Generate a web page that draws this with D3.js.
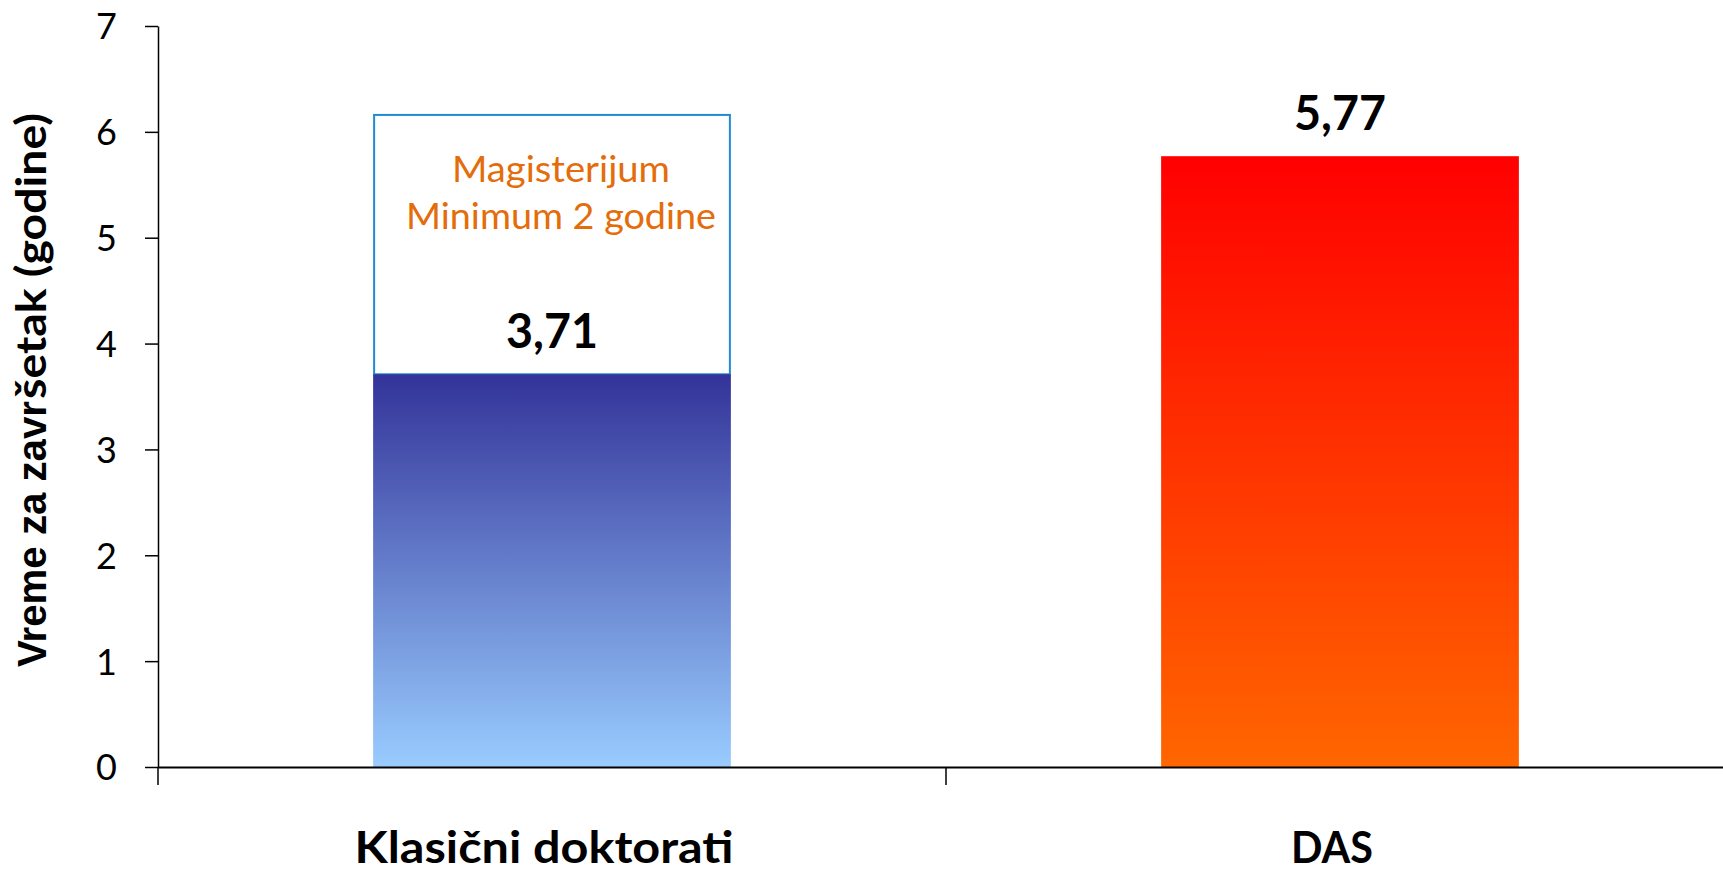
<!DOCTYPE html>
<html>
<head>
<meta charset="utf-8">
<script src="https://cdn.jsdelivr.net/npm/d3@7/dist/d3.min.js"></script>
<style>
  html, body { margin: 0; padding: 0; background: #fff; }
  svg { display: block; }
</style>
</head>
<body>
<svg id="chart" width="1723" height="872"></svg>
<script>
// ---- data ----
const categories = ["Klasični doktorati", "DAS"];
const values = [3.71, 5.77];
const valueLabels = ["3,71", "5,77"];
const magisterijumTop = [6.16, null];          // top of the annotated "Magisterijum" segment
const noteLines = ["Magisterijum", "Minimum 2 godine"];
const yTicks = [0, 1, 2, 3, 4, 5, 6, 7];
const yTickLabels = ["0", "1", "2", "3", "4", "5", "6", "7"];
const yTitleParts = ["Vreme za zavr", "šetak (godine)"];

// ---- layout ----
const svg = d3.select("#chart");
const y = d3.scaleLinear().domain([0, 7]).range([767, 26]);
const x = d3.scaleBand().domain(categories).range([158, 1734])
  .paddingInner(0.546).paddingOuter(0.273);

const defs = svg.append("defs");
const g1 = defs.append("linearGradient").attr("id", "gradBlue")
  .attr("x1", 0).attr("y1", 0).attr("x2", 0).attr("y2", 1);
g1.append("stop").attr("offset", "0%").attr("stop-color", "#333399");
g1.append("stop").attr("offset", "100%").attr("stop-color", "#99CCFF");
const g2 = defs.append("linearGradient").attr("id", "gradRed")
  .attr("x1", 0).attr("y1", 0).attr("x2", 0).attr("y2", 1);
g2.append("stop").attr("offset", "0%").attr("stop-color", "#FF0000");
g2.append("stop").attr("offset", "100%").attr("stop-color", "#FF6600");
const fills = ["url(#gradBlue)", "url(#gradRed)"];

const data = categories.map((c, i) => ({
  cat: c, value: values[i], label: valueLabels[i], top: magisterijumTop[i], fill: fills[i]
}));

// annotation box (stack segment above first bar)
svg.selectAll("rect.note").data(data.filter(d => d.top != null)).enter()
  .append("rect").attr("class", "note")
  .attr("x", d => x(d.cat) + 1)
  .attr("width", x.bandwidth() - 2)
  .attr("y", d => y(d.top))
  .attr("height", d => y(d.value) - y(d.top))
  .attr("fill", "#fff")
  .attr("stroke", "#1E8BD2")
  .attr("stroke-width", 2);

// bars
svg.selectAll("rect.bar").data(data).enter()
  .append("rect").attr("class", "bar")
  .attr("x", d => x(d.cat))
  .attr("width", x.bandwidth())
  .attr("y", d => y(d.value))
  .attr("height", d => y(0) - y(d.value))
  .attr("fill", d => d.fill);

// note text
const noteD = data.find(d => d.top != null);
const noteCx = x(noteD.cat) + x.bandwidth() / 2 + 9;
const noteTargets = [218, 310];
noteLines.forEach((t, i) => {
  svg.append("text")
    .attr("x", noteCx)
    .attr("y", 182 + i * 47)
    .attr("text-anchor", "middle")
    .attr("font-family", "Lato, 'Open Sans', sans-serif")
    .attr("font-size", 36)
    .attr("fill", "#E46C0A")
    .attr("textLength", noteTargets[i])
    .attr("lengthAdjust", "spacingAndGlyphs")
    .text(t);
});

// value labels
svg.selectAll("text.val").data(data).enter()
  .append("text").attr("class", "val")
  .attr("x", d => x(d.cat) + x.bandwidth() / 2)
  .attr("y", d => y(d.value) - 26)
  .attr("text-anchor", "middle")
  .attr("font-family", "Lato, 'Open Sans', sans-serif")
  .attr("font-weight", "bold")
  .attr("font-size", 47)
  .attr("fill", "#000")
  .attr("textLength", 92)
  .attr("lengthAdjust", "spacingAndGlyphs")
  .text(d => d.label);

// y axis
const yAxis = d3.axisLeft(y).tickValues(yTicks)
  .tickFormat((d, i) => yTickLabels[i])
  .tickSize(13).tickSizeOuter(0).tickPadding(28);
const gy = svg.append("g").attr("transform", "translate(158,0)").call(yAxis);
gy.select(".domain").attr("stroke", "#000").attr("stroke-width", 1.5);
gy.selectAll(".tick line").attr("stroke", "#000").attr("stroke-width", 1.5);
gy.selectAll(".tick text")
  .attr("font-family", "Lato, 'Open Sans', sans-serif")
  .attr("font-size", 36)
  .attr("fill", "#000")
  .attr("dy", "0.36em");

// x axis
const xAxis = d3.axisBottom(x).tickSize(0).tickSizeOuter(0).tickPadding(0);
const gx = svg.append("g").attr("transform", "translate(0,767)").call(xAxis);
gx.select(".domain").attr("stroke", "#000").attr("stroke-width", 2);
const catTargets = [379, 82];
gx.selectAll(".tick text")
  .attr("font-family", "Lato, 'Open Sans', sans-serif")
  .attr("font-weight", "bold")
  .attr("font-size", 44)
  .attr("fill", "#000")
  .attr("y", 96)
  .attr("dy", 0)
  .attr("dx", -8)
  .attr("textLength", (d, i) => catTargets[i])
  .attr("lengthAdjust", "spacingAndGlyphs");

// category boundary ticks
const gap = x.step() - x.bandwidth();
const boundaries = [x.range()[0]].concat(categories.slice(1).map(c => x(c) - gap / 2), [x.range()[1]]);
svg.append("g").selectAll("line").data(boundaries).enter()
  .append("line")
  .attr("x1", d => d).attr("x2", d => d)
  .attr("y1", y(0)).attr("y2", y(0) + 18)
  .attr("stroke", "#000").attr("stroke-width", 1.5);

// y title (mixed fonts as in the original)
svg.append("text")
  .attr("transform", "translate(46,667) rotate(-90)")
  .attr("font-family", "'Liberation Sans', Arial, sans-serif")
  .attr("font-weight", "bold")
  .attr("font-size", 40)
  .attr("fill", "#000")
  .attr("textLength", 266)
  .attr("lengthAdjust", "spacingAndGlyphs")
  .text(yTitleParts[0]);
svg.append("text")
  .attr("transform", "translate(46,399) rotate(-90)")
  .attr("font-family", "Lato, 'Open Sans', sans-serif")
  .attr("font-weight", "bold")
  .attr("font-size", 42)
  .attr("fill", "#000")
  .attr("textLength", 286)
  .attr("lengthAdjust", "spacingAndGlyphs")
  .text(yTitleParts[1]);
</script>
</body>
</html>
